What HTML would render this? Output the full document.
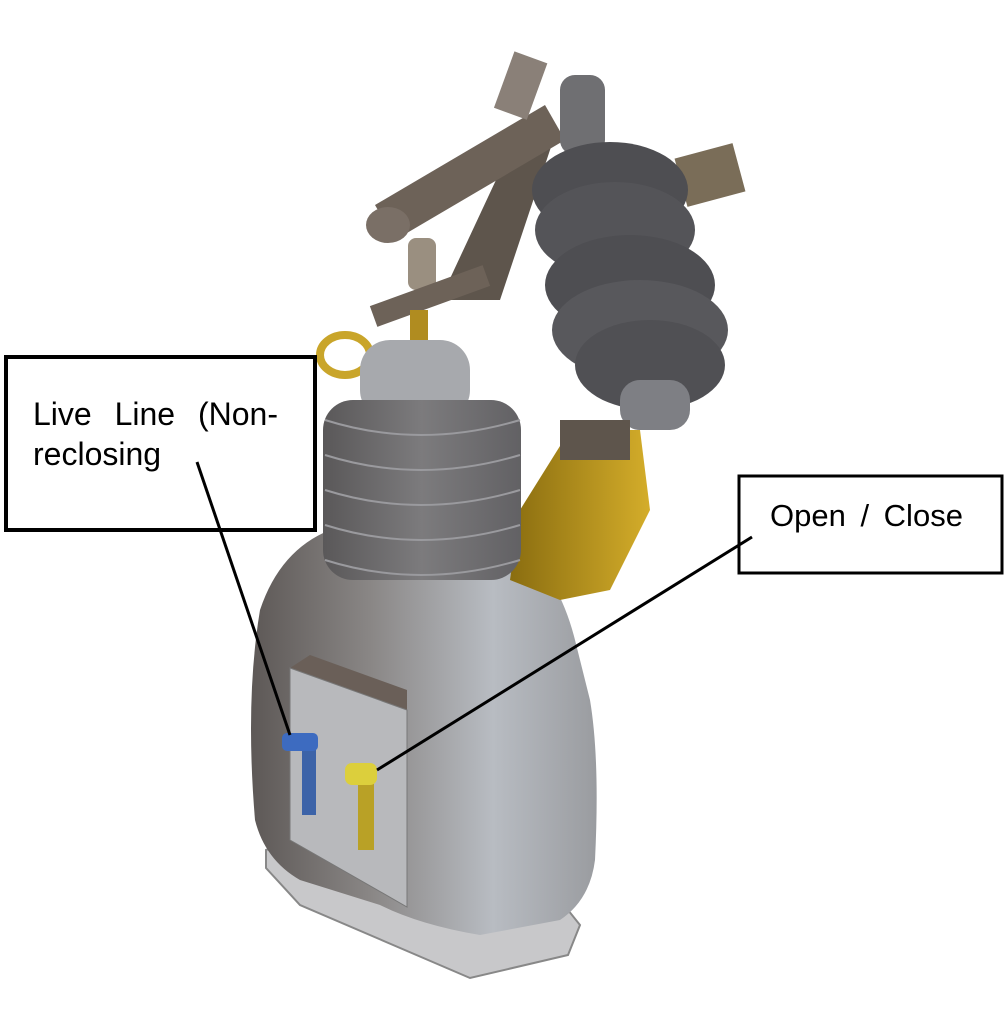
<!DOCTYPE html>
<html><head><style>html,body{margin:0;padding:0;background:#fff}svg{display:block}</style></head>
<body>
<svg width="1004" height="1030" viewBox="0 0 1004 1030" xmlns="http://www.w3.org/2000/svg">
<defs>
<linearGradient id="hg" x1="0" x2="1" y1="0" y2="0">
<stop offset="0" stop-color="#5d5856"/><stop offset="0.35" stop-color="#8a8786"/><stop offset="0.7" stop-color="#b8bcc2"/><stop offset="1" stop-color="#9a9ca0"/></linearGradient>
<linearGradient id="ig" x1="0" x2="1"><stop offset="0" stop-color="#5a5859"/><stop offset="0.5" stop-color="#7c7b7d"/><stop offset="1" stop-color="#626164"/></linearGradient>
<linearGradient id="yg" x1="0" x2="1"><stop offset="0" stop-color="#8a6d10"/><stop offset="1" stop-color="#d4ad2a"/></linearGradient>
</defs>
<!-- base plate -->
<polygon points="266,850 300,838 560,900 580,925 568,955 470,978 300,905 266,868" fill="#c8c8ca" stroke="#888" stroke-width="2"/>
<!-- housing -->
<path d="M330,530 L520,540 Q560,580 575,640 L590,700 Q600,760 595,860 Q590,900 560,920 L480,935 Q420,925 380,905 L300,880 Q265,860 255,820 Q245,700 260,610 Q280,550 330,530 Z" fill="url(#hg)"/>
<!-- arm -->
<path d="M440,300 L500,300 L555,135 L510,150 Z" fill="#5e554c"/>
<path d="M375,205 L545,105 L565,140 L395,240 Z" fill="#6d6258"/>
<ellipse cx="388" cy="225" rx="22" ry="18" fill="#7a6f66"/>
<rect x="408" y="238" width="28" height="52" rx="8" fill="#9a8f80"/>
<rect x="505" y="55" width="35" height="60" fill="#8a8078" transform="rotate(20 520 80)"/>
<rect x="370" y="285" width="120" height="22" fill="#6d6258" transform="rotate(-20 430 296)"/>
<!-- right insulator -->
<rect x="680" y="150" width="60" height="50" fill="#7a6d58" transform="rotate(-15 710 175)"/>
<rect x="560" y="75" width="45" height="80" rx="15" fill="#6f6f72"/>
<ellipse cx="610" cy="190" rx="78" ry="48" fill="#4e4e52"/>
<ellipse cx="615" cy="230" rx="80" ry="48" fill="#545458"/>
<ellipse cx="630" cy="285" rx="85" ry="50" fill="#4e4e52"/>
<ellipse cx="640" cy="330" rx="88" ry="50" fill="#58585c"/>
<ellipse cx="650" cy="365" rx="75" ry="45" fill="#505054"/>
<rect x="620" y="380" width="70" height="50" rx="20" fill="#7e7f84"/>
<!-- yellow mechanism -->
<path d="M570,430 L640,430 L650,510 L610,590 L560,600 L510,580 L520,510 Z" fill="url(#yg)"/>
<rect x="560" y="420" width="70" height="40" fill="#5e554c"/>
<!-- left top fittings -->
<ellipse cx="345" cy="355" rx="25" ry="20" fill="none" stroke="#c9a52a" stroke-width="8"/>
<rect x="410" y="310" width="18" height="40" fill="#b08c20"/>
<!-- left insulator -->
<rect x="360" y="340" width="110" height="80" rx="30" fill="#a7a9ad"/>
<rect x="323" y="400" width="198" height="180" rx="30" fill="url(#ig)"/>
<g fill="none" stroke="#9a9a9e" stroke-width="2">
<path d="M325,420 Q420,450 520,420"/><path d="M325,455 Q420,485 520,455"/><path d="M325,490 Q420,520 520,490"/><path d="M325,525 Q420,555 520,525"/><path d="M325,560 Q420,590 520,560"/>
</g>
<!-- front panel -->
<polygon points="290,668 310,655 407,690 407,710" fill="#6a5f58"/>
<polygon points="290,668 407,710 407,907 290,840" fill="#b8b9bc" stroke="#777" stroke-width="1"/>
<rect x="302" y="745" width="14" height="70" fill="#3c63a8"/>
<rect x="282" y="733" width="36" height="18" rx="5" fill="#3d6bc0"/>
<rect x="358" y="775" width="16" height="75" fill="#b9a126"/>
<rect x="345" y="763" width="32" height="22" rx="7" fill="#dccf3c"/>
<!-- labels -->
<rect x="6" y="357" width="309" height="173" fill="#fff" stroke="#000" stroke-width="4"/>
<text x="33" y="425" font-family="Liberation Sans, sans-serif" font-size="32" word-spacing="14">Live Line (Non-</text>
<text x="33" y="465" font-family="Liberation Sans, sans-serif" font-size="32">reclosing</text>
<line x1="197" y1="462" x2="290" y2="735" stroke="#000" stroke-width="3"/>
<rect x="739" y="476" width="263" height="97" fill="#fff" stroke="#000" stroke-width="3"/>
<text x="770" y="526" font-family="Liberation Sans, sans-serif" font-size="31" word-spacing="6">Open / Close</text>
<line x1="752" y1="537" x2="377" y2="770" stroke="#000" stroke-width="3"/>
</svg>
</body></html>
